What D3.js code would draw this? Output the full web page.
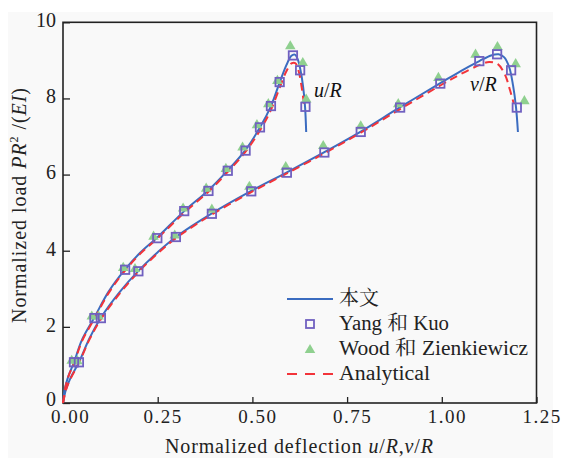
<!DOCTYPE html>
<html><head><meta charset="utf-8">
<script src="https://cdn.jsdelivr.net/npm/d3@7"></script>
<style>
body{margin:0;background:#fff}svg{display:block}
svg text{font-family:"Liberation Serif","Times New Roman","DejaVu Serif",serif !important}
svg text.cjk{font-family:"Liberation Serif","Noto Serif CJK SC","Noto Sans CJK SC",serif !important}
</style>
</head><body>
<svg id="c" width="561" height="458"></svg>
<script>
// ---- data ----
const xTicks = [0, 0.25, 0.5, 0.75, 1.0, 1.25];
const xTickLabels = ["0.00", "0.25", "0.50", "0.75", "1.00", "1.25"];
const yTicks = [0, 2, 4, 6, 8, 10];
const yTickLabels = ["0", "2", "4", "6", "8", "10"];
const legendLabels = ["本文", "Yang 和 Kuo", "Wood 和 Zienkiewicz", "Analytical"];

// present work (blue solid)
const thisU = [[0,0],[0.005,0.38],[0.014,0.7],[0.029,1.07],[0.05,1.66],[0.083,2.25],[0.12,2.92],[0.164,3.51],[0.205,3.96],[0.249,4.35],[0.32,5.04],[0.384,5.59],[0.435,6.11],[0.482,6.65],[0.52,7.24],[0.549,7.8],[0.572,8.42],[0.59,8.88],[0.603,9.12],[0.612,9.15],[0.62,9.02],[0.627,8.74],[0.634,8.3],[0.639,7.78],[0.642,7.12]];
const thisV = [[0,0],[0.008,0.36],[0.02,0.66],[0.042,1.07],[0.07,1.7],[0.1,2.24],[0.15,2.92],[0.199,3.47],[0.25,3.96],[0.298,4.36],[0.393,4.98],[0.497,5.57],[0.591,6.06],[0.69,6.59],[0.786,7.13],[0.89,7.77],[0.996,8.4],[1.05,8.72],[1.099,8.98],[1.13,9.13],[1.15,9.16],[1.165,9.08],[1.178,8.82],[1.188,8.35],[1.196,7.76],[1.201,7.12]];
// analytical (red dashed)
const anaU = [[0,0],[0.006,0.4],[0.015,0.72],[0.03,1.07],[0.05,1.62],[0.083,2.22],[0.12,2.88],[0.164,3.48],[0.205,3.93],[0.249,4.32],[0.32,5.0],[0.384,5.55],[0.435,6.07],[0.482,6.6],[0.52,7.16],[0.549,7.7],[0.572,8.28],[0.59,8.72],[0.603,8.92],[0.613,8.93],[0.622,8.72],[0.63,8.3],[0.636,7.86]];
const anaV = [[0,0],[0.008,0.34],[0.02,0.64],[0.042,1.05],[0.07,1.67],[0.1,2.2],[0.15,2.88],[0.199,3.44],[0.25,3.93],[0.298,4.33],[0.393,4.95],[0.497,5.54],[0.591,6.03],[0.69,6.56],[0.786,7.1],[0.89,7.72],[0.996,8.34],[1.05,8.64],[1.1,8.88],[1.125,8.96],[1.148,8.9],[1.167,8.62],[1.18,8.22],[1.19,7.86]];
// Yang & Kuo (squares)
const yangU = [[0.029,1.07],[0.083,2.23],[0.164,3.5],[0.249,4.33],[0.32,5.04],[0.384,5.57],[0.435,6.1],[0.482,6.63],[0.52,7.24],[0.549,7.8],[0.572,8.43],[0.607,9.13],[0.626,8.74],[0.64,7.78]];
const yangV = [[0.042,1.07],[0.1,2.23],[0.199,3.46],[0.298,4.36],[0.393,4.97],[0.497,5.56],[0.591,6.05],[0.69,6.58],[0.786,7.12],[0.89,7.76],[0.996,8.39],[1.099,8.98],[1.146,9.16],[1.183,8.74],[1.198,7.76]];
// Wood & Zienkiewicz (triangles)
const woodU = [[0.023,1.11],[0.076,2.27],[0.159,3.55],[0.239,4.37],[0.317,5.11],[0.378,5.63],[0.43,6.15],[0.474,6.71],[0.512,7.3],[0.542,7.85],[0.566,8.46],[0.6,9.37],[0.633,8.93],[0.642,7.97]];
const woodV = [[0.038,1.1],[0.094,2.27],[0.19,3.52],[0.295,4.4],[0.393,5.08],[0.492,5.68],[0.588,6.2],[0.687,6.75],[0.786,7.27],[0.885,7.85],[0.991,8.54],[1.089,9.15],[1.147,9.35],[1.195,8.9],[1.218,7.93]];

// ---- drawing ----
const svg = d3.select("#c");
const X0 = 63, X1 = 536.5, Y0 = 403, Y1 = 22.3;
const x = d3.scaleLinear().domain([0, 1.25]).range([X0, X1]);
const y = d3.scaleLinear().domain([0, 10]).range([Y0, Y1]);
const BLUE = "#3b6cc0", RED = "#f2343a", PURPLE = "#7060c0", GREEN = "#8fd08f";

svg.append("rect").attr("x", 8).attr("y", 12).attr("width", 545).attr("height", 446).attr("fill", "#f9f9f9");

// axes (ticks inside)
const gx = svg.append("g").attr("transform", `translate(0,${Y0})`);
gx.call(d3.axisBottom(x).tickValues(d3.range(0, 1.2501, 0.125)).tickSize(-5).tickFormat(""));
gx.call(d3.axisBottom(x).tickValues(xTicks).tickSize(-6).tickFormat((d, i) => xTickLabels[i]).tickPadding(7));
const gy = svg.append("g").attr("transform", `translate(${X0},0)`);
gy.call(d3.axisLeft(y).tickValues(d3.range(0, 10.01, 1)).tickSize(-5).tickFormat(""));
gy.call(d3.axisLeft(y).tickValues(yTicks).tickSize(-7).tickFormat((d, i) => yTickLabels[i]).tickPadding(7));
svg.selectAll(".domain").remove();
svg.selectAll(".tick line").attr("stroke", "#222").attr("stroke-width", 1.3);
gx.selectAll(".tick text").attr("font-size", 19).attr("fill", "#222")
  .attr("letter-spacing", "1.5px").attr("dy", "0.71em").attr("dx", (d, i) => i === 0 ? 7 : 5);
gy.selectAll(".tick text").attr("font-size", 20).attr("fill", "#222")
  .attr("dy", (d, i) => i === 0 ? "0.12em" : "0.22em");
svg.append("rect").attr("x", X0).attr("y", Y1).attr("width", X1 - X0).attr("height", Y0 - Y1)
  .attr("fill", "none").attr("stroke", "#222").attr("stroke-width", 1.6);

const line = d3.line().x(d => x(d[0])).y(d => y(d[1])).curve(d3.curveCatmullRom.alpha(0.5));
const plot = svg.append("g");
[thisU, thisV].forEach(s => plot.append("path").attr("d", line(s)).attr("fill", "none").attr("stroke", BLUE).attr("stroke-width", 2));
[anaU, anaV].forEach(s => plot.append("path").attr("d", line(s)).attr("fill", "none").attr("stroke", RED).attr("stroke-width", 2).attr("stroke-dasharray", "8,5"));

const tri = d3.symbol().type(d3.symbolTriangle).size(48);
[woodU, woodV].forEach(s => plot.selectAll(null).data(s).enter().append("path")
  .attr("d", tri).attr("transform", d => `translate(${x(d[0])},${y(d[1])})`).attr("fill", GREEN));
[yangU, yangV].forEach(s => plot.selectAll(null).data(s).enter().append("rect")
  .attr("x", d => x(d[0]) - 4.2).attr("y", d => y(d[1]) - 4.2).attr("width", 8.4).attr("height", 8.4)
  .attr("fill", "none").attr("stroke", PURPLE).attr("stroke-width", 1.8));

// curve labels
function italicLabel(xp, yp, a, b) {
  const t = svg.append("text").attr("x", xp).attr("y", yp).attr("font-size", 20).attr("fill", "#111");
  t.append("tspan").attr("font-style", "italic").text(a);
  t.append("tspan").text("/");
  t.append("tspan").attr("font-style", "italic").text(b);
}
italicLabel(314, 97, "u", "R");
italicLabel(470, 91, "v", "R");

// legend
const lg = svg.append("g");
const rows = [299, 324, 349, 374];
lg.append("line").attr("x1", 287).attr("x2", 333).attr("y1", rows[0]).attr("y2", rows[0]).attr("stroke", BLUE).attr("stroke-width", 2);
lg.append("rect").attr("x", 306).attr("y", rows[1] - 4).attr("width", 8).attr("height", 8).attr("fill", "none").attr("stroke", PURPLE).attr("stroke-width", 1.8);
lg.append("path").attr("d", tri).attr("transform", `translate(310,${rows[2] + 1})`).attr("fill", GREEN);
lg.append("line").attr("x1", 287).attr("x2", 334).attr("y1", rows[3]).attr("y2", rows[3]).attr("stroke", RED).attr("stroke-width", 2).attr("stroke-dasharray", "10,8");
const lgWidths = [40, 110, 189, 91];
legendLabels.forEach((s, i) => {
  lg.append("text").attr("class", "cjk").attr("x", 339).attr("y", rows[i] + 6)
    .attr("font-size", 20).attr("fill", "#222").attr("textLength", lgWidths[i]).attr("lengthAdjust", "spacingAndGlyphs").text(s);
});

// axis titles
const xt = svg.append("text").attr("x", 165).attr("y", 453).attr("font-size", 20).attr("fill", "#222")
  .attr("textLength", 268).attr("lengthAdjust", "spacing");
xt.append("tspan").text("Normalized deflection ");
xt.append("tspan").attr("font-style", "italic").text("u");
xt.append("tspan").text("/");
xt.append("tspan").attr("font-style", "italic").text("R");
xt.append("tspan").text(",");
xt.append("tspan").attr("font-style", "italic").text("v");
xt.append("tspan").text("/");
xt.append("tspan").attr("font-style", "italic").text("R");

const yt = svg.append("text").attr("transform", "translate(26,323) rotate(-90)").attr("font-size", 20).attr("fill", "#222")
  .attr("textLength", 235).attr("lengthAdjust", "spacing");
yt.append("tspan").text("Normalized load ");
yt.append("tspan").attr("font-style", "italic").text("PR");
yt.append("tspan").attr("font-size", 12).attr("dy", -8).text("2");
yt.append("tspan").attr("dy", 8).text(" /(");
yt.append("tspan").attr("font-style", "italic").text("EI");
yt.append("tspan").text(")");
</script>
</body></html>
